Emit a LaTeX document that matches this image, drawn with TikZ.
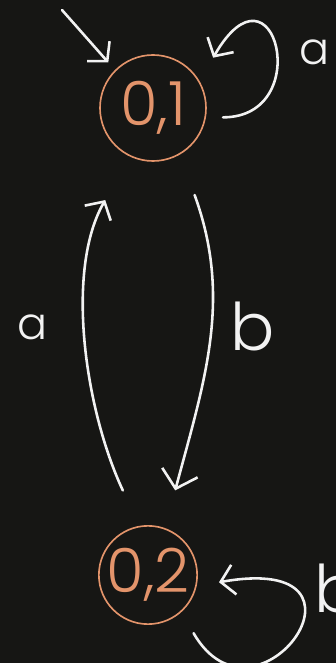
\documentclass[tikz,border=0pt]{standalone}
\usepackage{fontspec}
\newfontfamily\handfont{Poppins Light}
\usetikzlibrary{arrows.meta}
\definecolor{board}{HTML}{161614}
\definecolor{chalk}{HTML}{F2F2F2}
\definecolor{peach}{HTML}{E3946B}
\begin{document}
\begin{tikzpicture}[x=0.03cm, y=0.03cm, state/.style={draw=peach, line width=1.4pt, circle, text=peach, inner sep=0pt, font=\handfont\fontsize{52}{52}\selectfont}, hand/.style={draw=chalk, line width=2.2pt, line cap=round, -{Straight Barb[length=4mm,width=9mm]}}, lbl/.style={text=chalk, inner sep=0pt, font=\handfont\fontsize{38}{38}\selectfont}, biglbl/.style={lbl, font=\handfont\fontsize{56}{56}\selectfont}]
\useasboundingbox (0,0) rectangle (336,663);
\fill[board] (0,0) rectangle (336,663);
\node[state, minimum size=3.18cm] (q01) at (153,555) {0,1};
\node[state, minimum size=2.9cm] (q02) at (148,88) {0,2};
\coordinate (init) at (62,653);
\draw[hand, shorten >=0.3cm] (init) -- (q01.135);
\draw[hand, shorten <=0.51cm, shorten >=0.81cm] (q01.350) .. controls +(110,0) and +(75,130) .. (q01.30);
\draw[hand, shorten <=1.17cm, shorten >=1.5cm] (q02.100) to[out=115, in=240, looseness=0.9] (q01.245);
\draw[hand, -{Straight Barb[length=5mm,width=11mm]}, shorten <=1.29cm, shorten >=1.17cm] (q01.300) to[out=290, in=75, looseness=1.05] (q02.70);
\draw[hand, shorten <=0.73cm, shorten >=0.68cm] (q02.312) .. controls +(75,-130) and +(197,35) .. (q02.347);
\node[lbl] (looplabela) at (315,611) {a};
\node[lbl] (uplabel) at (33,336) {a};
\node[biglbl] (downlabel) at (253,337) {b};
\node[biglbl] (looplabelb) at (337,75) {b};
\end{tikzpicture}
\end{document}
